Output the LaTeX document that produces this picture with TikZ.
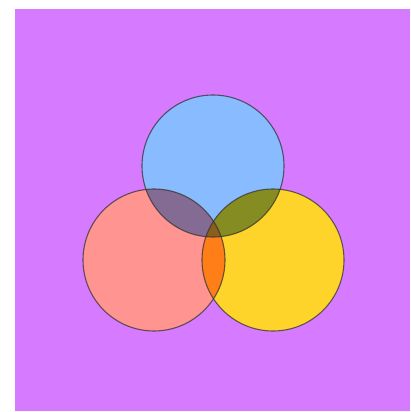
\documentclass[tikz,border=0pt]{standalone}
\definecolor{bgpurple}{HTML}{D67BFF}
\definecolor{cblue}{HTML}{88BBFF}
\definecolor{cred}{HTML}{FF9490}
\definecolor{cyellow}{HTML}{FFD42A}
\definecolor{crb}{HTML}{846B94}
\definecolor{cby}{HTML}{858C22}
\definecolor{cry}{HTML}{FF7E18}
\definecolor{crby}{HTML}{8A5E1E}
\tikzset{ring/.style={draw=black!80, line width=1.1pt, draw opacity=0.75}}
\begin{document}
\begin{tikzpicture}[x=1pt,y=-1pt]
\useasboundingbox (0,0) rectangle (410,412);
\fill[white] (0,0) rectangle (410,412);
\fill[bgpurple] (15,9) rectangle (410,411);
\coordinate (B) at (213,166);
\coordinate (R) at (154,260);
\coordinate (Y) at (273,260);
\fill[cblue] (B) circle (71);
\fill[cred] (R) circle (71);
\fill[cyellow] (Y) circle (71);
\begin{scope}\clip (B) circle (71); \fill[crb] (R) circle (71);\end{scope}
\begin{scope}\clip (B) circle (71); \fill[cby] (Y) circle (71);\end{scope}
\begin{scope}\clip (R) circle (71); \fill[cry] (Y) circle (71);\end{scope}
\begin{scope}\clip (B) circle (71); \clip (R) circle (71); \fill[crby] (Y) circle (71);\end{scope}
\draw[ring] (B) circle (71);
\draw[ring] (R) circle (71);
\draw[ring] (Y) circle (71);
\end{tikzpicture}
\end{document}
